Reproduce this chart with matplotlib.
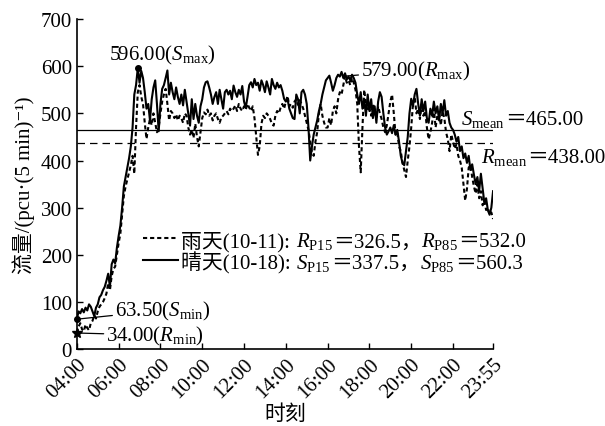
# Daily 5-min traffic flow, rainy vs sunny day

import matplotlib.pyplot as plt
from matplotlib.transforms import IdentityTransform
import numpy as np

plt.rcParams['font.family'] = ['Liberation Serif', 'Noto Sans CJK SC', 'DejaVu Serif']
plt.rcParams['mathtext.fontset'] = 'custom'
plt.rcParams['mathtext.rm'] = 'Liberation Serif'
plt.rcParams['mathtext.it'] = 'Liberation Serif:italic'
plt.rcParams['font.size'] = 15

# flow per 5 min, 04:00 .. 23:55, one row per hour
sunny = [
    63.5, 80, 76, 85, 78, 88, 82, 95, 90, 80, 70, 88,
    95, 110, 115, 125, 132, 145, 160, 132, 180, 190, 182, 215,
    240, 262, 300, 345, 365, 385, 405, 430, 470, 540, 560, 596,
    565, 590, 575, 545, 510, 520, 485, 530, 555, 570, 520, 462,
    520, 552, 560, 575, 591, 540, 565, 545, 530, 555, 535, 520,
    540, 517, 550, 525, 500, 474, 530, 488, 520, 495, 480, 515,
    530, 555, 566, 568, 555, 540, 520, 535, 545, 520, 550, 530,
    510, 545, 550, 540, 548, 530, 559, 545, 535, 550, 540, 558,
    525, 512, 535, 560, 566, 555, 573, 560, 565, 548, 570, 560,
    545, 568, 555, 540, 573, 560, 552, 565, 555, 560, 548, 531,
    525, 530, 510, 500, 490, 488, 540, 530, 500, 545, 550, 540,
    520, 470, 400, 430, 455, 470, 485, 505, 520, 540, 555, 570,
    575, 580, 565, 548, 560, 575, 582, 578, 588, 575, 585, 572,
    578, 570, 582, 575, 565, 540, 520, 545, 510, 530, 495, 540,
    505, 530, 490, 515, 480, 525, 545, 535, 500, 470, 455, 462,
    470, 458, 475, 455, 465, 440, 410, 395, 390, 420, 450, 500,
    531, 515, 540, 552, 520, 495, 530, 505, 525, 490, 480, 510,
    495, 525, 500, 515, 485, 520, 500, 528, 495, 505, 480, 470,
    465, 455, 440, 450, 420, 430, 405, 415, 395, 410, 380, 392,
    370, 350, 365, 335, 372, 340, 310, 320, 295, 285, 300, 335,
]
rainy = [
    34, 48, 55, 42, 38, 52, 45, 40, 55, 60, 72, 65,
    80, 90, 95, 100, 108, 118, 140, 125, 155, 170, 175, 200,
    225, 245, 285, 325, 345, 360, 375, 390, 410, 372, 470, 545,
    560, 535, 520, 480, 446, 470, 488, 475, 500, 480, 460, 470,
    500, 525, 540, 552, 520, 485, 505, 500, 490, 498, 485, 495,
    490, 480, 500, 495, 470, 455, 465, 448, 478, 450, 430, 460,
    490, 502, 498, 508, 495, 500, 485, 495, 500, 488, 480, 492,
    495, 500, 505, 498, 510, 505, 510, 517, 505, 520, 510, 505,
    515, 508, 520, 512, 505, 515, 490, 450, 412, 430, 478, 495,
    490, 500, 495, 488, 478, 474, 495, 505, 500, 512, 520, 510,
    525, 537, 515, 520, 512, 525, 530, 518, 528, 520, 510, 495,
    480, 465, 440, 418, 410, 440, 460, 500, 520, 495, 480, 470,
    470, 490, 475, 505, 515, 500, 530, 545, 540, 560, 579, 565,
    570, 560, 575, 565, 550, 520, 430, 375, 470, 550, 520, 505,
    510, 495, 520, 505, 490, 515, 500, 488, 470, 460, 475, 500,
    525, 540, 500, 455, 460, 430, 420, 395, 380, 365, 400, 430,
    470, 520, 535, 500, 510, 488, 520, 495, 505, 470, 445, 460,
    480, 510, 470, 495, 500, 475, 505, 490, 460, 445, 420, 455,
    440, 425, 435, 410, 400, 385, 350, 315, 340, 385, 390, 365,
    345, 330, 350, 320, 335, 305, 315, 295, 300, 285, 290, 276,
]

tick_pos = [0, 24, 48, 72, 96, 120, 144, 168, 192, 216, 239]
tick_labels = ['04:00', '06:00', '08:00', '10:00', '12:00', '14:00',
               '16:00', '18:00', '20:00', '22:00', '23:55']

s_mean, r_mean = 465.00, 438.00
s_p15, s_p85 = 337.5, 560.3
r_p15, r_p85 = 326.5, 532.0

x = np.arange(len(sunny))
sunny = np.array(sunny)
rainy = np.array(rainy)
rain_ls = (0, (2, 1.4))

fig = plt.figure(figsize=(6.05, 4.27), dpi=100)
ax = fig.add_axes([0.127, 0.180, 0.688, 0.773])
ax.set_xlim(0, 239)
ax.set_ylim(0, 700)


def rich_text(x, y, parts):
    # mathtext can't fall back to the CJK font, so lay pieces end to end
    renderer = fig.canvas.get_renderer()
    px, py = ax.transData.transform((x, y))
    for s in parts:
        t = ax.text(px, py, s, transform=IdentityTransform(),
                    ha='left', va='baseline')
        px = t.get_window_extent(renderer).x1


ax.plot(x, rainy, color='k', lw=1.5, ls=rain_ls)
ax.plot(x, sunny, color='k', lw=1.5)
ax.axhline(s_mean, color='k', lw=0.9)
ax.axhline(r_mean, color='k', lw=0.9, ls=(0, (6, 4)))

# extreme points
i_smax, i_rmax = np.argmax(sunny), np.argmax(rainy)
i_smin, i_rmin = np.argmin(sunny), np.argmin(rainy)
ax.plot(i_smax, sunny[i_smax], 'ko', ms=4)
ax.plot(i_smin, sunny[i_smin], 'ko', ms=4, clip_on=False)
ax.plot(i_rmin, rainy[i_rmin], 'k*', ms=7, clip_on=False)

ax.text(18.7, 615, '%.2f($S_{\\mathrm{max}}$)' % sunny[i_smax],
        ha='left', va='baseline')
line_kw = dict(arrowstyle='-', lw=0.9, color='k', shrinkA=0, shrinkB=0)
ax.annotate('%.2f($R_{\\mathrm{max}}$)' % rainy[i_rmax],
            xy=(i_rmax, rainy[i_rmax]), xytext=(163.3, 581),
            ha='left', va='baseline', arrowprops=line_kw)
ax.annotate('%.2f($S_{\\mathrm{min}}$)' % sunny[i_smin],
            xy=(i_smin, sunny[i_smin]), xytext=(22, 72),
            ha='left', va='baseline', arrowprops=line_kw)
ax.annotate('%.2f($R_{\\mathrm{min}}$)' % rainy[i_rmin],
            xy=(i_rmin + 2, rainy[i_rmin]), xytext=(17, 19),
            ha='left', va='baseline', arrowprops=line_kw)

rich_text(220.8, 477, ['$S_{\\mathrm{mean}}$', '＝%.2f' % s_mean])
rich_text(232, 396, ['$R_{\\mathrm{mean}}$', '＝%.2f' % r_mean])

# legend, drawn by hand
ax.plot([38, 58], [235, 235], color='k', lw=1.5, ls=rain_ls)
ax.plot([38, 58], [189, 189], color='k', lw=1.5)
rich_text(60, 218, ['雨天(10-11): ', '$R_{\\mathrm{P15}}$', '＝%.1f，' % r_p15,
                    '$R_{\\mathrm{P85}}$', '＝%.1f' % r_p85])
rich_text(60, 172, ['晴天(10-18): ', '$S_{\\mathrm{P15}}$', '＝%.1f，' % s_p15,
                    '$S_{\\mathrm{P85}}$', '＝%.1f' % s_p85])

ax.set_yticks(range(0, 701, 100))
ax.set_xticks(tick_pos)
ax.set_xticklabels(tick_labels, rotation=45, ha='right', va='top',
                   rotation_mode='anchor')
ax.tick_params(direction='in', length=4, width=1)
ax.tick_params(axis='x', pad=4)
for side in ['top', 'right']:
    ax.spines[side].set_visible(False)
for side in ['left', 'bottom']:
    ax.spines[side].set_linewidth(1.2)

fig.text(0.471, 0.028, '时刻', ha='center', va='center')
ax.set_ylabel('流量/(pcu·(5 min)⁻¹)', labelpad=4)

fig.savefig('out.png', dpi=100)
